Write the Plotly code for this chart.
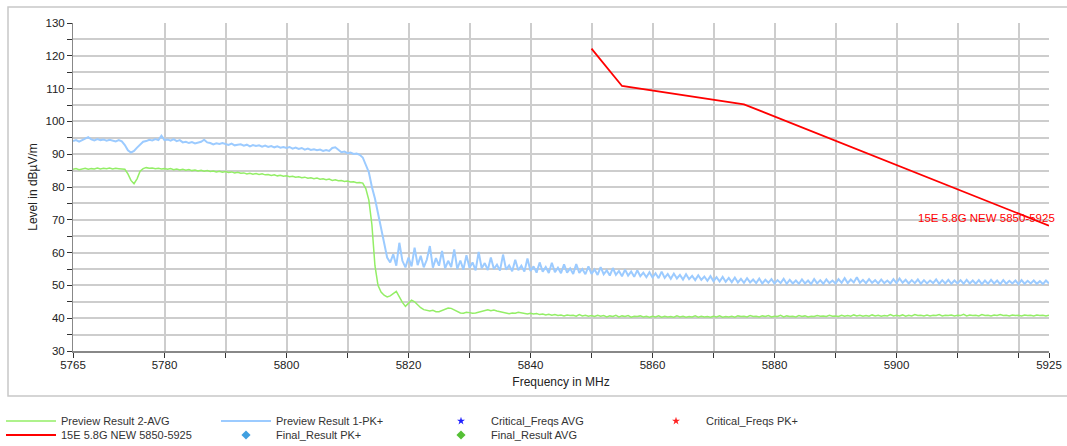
import plotly.graph_objects as go

# ---------------- data ----------------
F_START = 5765.0
F_STEP = 0.5

preview_pk = [
    94.0, 94.3, 93.8, 94.2, 94.6, 95.2, 94.5, 94.2, 94.6, 94.3,  # 5765
    94.5, 94.1, 94.4, 94.2, 93.9, 94.3, 93.9, 92.8, 91.2, 90.5,  # 5770
    91.0, 92.0, 93.0, 93.8, 94.0, 94.4, 94.2, 94.6, 94.3, 95.6,  # 5775
    94.3, 94.5, 94.1, 94.6, 94.0, 94.3, 93.6, 93.8, 93.4, 93.7,  # 5780
    93.3, 93.6, 93.8, 94.4, 93.6, 93.4, 93.0, 93.3, 93.1, 93.4,  # 5785
    93.0, 92.8, 93.2, 92.7, 92.9, 93.0, 92.6, 92.9, 92.4, 92.8,  # 5790
    92.5, 92.7, 92.3, 92.6, 92.2, 92.5, 92.1, 92.4, 92.0, 92.2,  # 5795
    91.9, 92.2, 91.7, 92.0, 91.6, 91.9, 91.4, 91.7, 91.3, 91.5,  # 5800
    91.2, 91.4, 91.0, 91.3, 91.0, 91.9, 92.1, 91.2, 90.6, 90.8,  # 5805
    90.3, 90.5, 90.1, 90.2, 89.8, 89.0, 87.0, 84.5, 80.0, 76.5,  # 5810
    72.0, 67.5, 62.5, 58.5, 57.0, 59.5, 56.0, 63.0, 57.5, 55.5,  # 5815
    58.5, 55.8, 61.5, 56.2, 59.0, 55.5, 57.8, 62.0, 55.4, 58.3,  # 5820
    56.0, 60.5, 55.2, 57.5, 55.6, 61.0, 55.0, 57.6, 54.8, 59.2,  # 5825
    55.4, 57.0, 54.6, 60.2, 55.2, 56.8, 54.7, 58.5, 55.0, 56.3,  # 5830
    54.5, 59.4, 54.8, 56.1, 54.3, 57.8, 54.6, 56.0, 54.2, 58.2,  # 5835
    54.4, 55.8, 53.9, 57.0, 54.2, 55.6, 53.8, 56.9, 54.0, 55.4,  # 5840
    53.7, 56.4, 53.9, 55.2, 53.5, 56.5, 53.8, 55.0, 53.4, 55.8,  # 5845
    53.5, 54.9, 53.2, 55.6, 53.4, 54.6, 53.0, 55.3, 53.2, 54.4,  # 5850
    52.8, 54.8, 53.0, 54.2, 52.6, 54.6, 52.8, 53.9, 52.5, 54.0,  # 5855
    52.4, 53.7, 52.2, 54.2, 52.3, 53.5, 52.0, 53.6, 52.1, 53.2,  # 5860
    51.8, 53.4, 51.9, 52.9, 51.6, 53.1, 51.7, 52.7, 51.4, 52.8,  # 5865
    51.3, 52.5, 51.2, 52.6, 51.1, 52.3, 51.0, 52.4, 50.9, 52.0,  # 5870
    50.8, 52.2, 50.9, 51.8, 50.7, 52.1, 50.6, 51.7, 50.8, 51.9,  # 5875
    50.6, 51.6, 50.7, 52.0, 50.5, 51.7, 50.6, 51.5, 50.5, 51.8,  # 5880
    50.6, 51.5, 50.4, 51.9, 50.6, 51.6, 50.5, 51.8, 50.7, 51.5,  # 5885
    50.6, 51.9, 50.8, 52.2, 50.7, 51.8, 50.9, 52.5, 50.8, 51.7,  # 5890
    50.7, 51.9, 50.8, 51.6, 50.6, 51.8, 50.7, 51.5, 50.6, 51.9,  # 5895
    50.7, 52.1, 50.8, 51.7, 50.6, 51.6, 50.7, 51.8, 50.5, 51.6,  # 5900
    50.6, 51.5, 50.7, 51.8, 50.5, 51.6, 50.6, 51.7, 50.5, 51.5,  # 5905
    50.6, 51.6, 50.5, 51.7, 50.6, 51.5, 50.5, 51.6, 50.4, 51.5,  # 5910
    50.5, 51.7, 50.6, 51.5, 50.4, 51.6, 50.5, 51.4, 50.6, 51.5,  # 5915
    50.4, 51.6, 50.5, 51.4, 50.6, 51.5, 50.5, 51.3, 50.4, 51.5, 50.6,  # 5920
]

preview_avg = [
    85.4, 85.6, 85.3, 85.5, 85.7, 85.4, 85.6, 85.5, 85.8, 85.5,  # 5765
    85.7, 85.6, 85.8, 85.5, 85.7, 85.6, 85.5, 85.4, 84.0, 82.0,  # 5770
    81.0, 82.5, 84.8, 85.6, 85.9, 85.7, 85.8, 85.6, 85.7, 85.5,  # 5775
    85.6, 85.4, 85.6, 85.3, 85.5, 85.2, 85.4, 85.1, 85.3, 85.0,  # 5780
    85.2, 84.9, 85.1, 84.8, 85.0, 84.7, 84.9, 84.6, 84.8, 84.5,  # 5785
    84.7, 84.4, 84.6, 84.3, 84.5, 84.2, 84.3, 84.0, 84.2, 83.9,  # 5790
    84.1, 83.8, 84.0, 83.7, 83.8, 83.5, 83.7, 83.4, 83.6, 83.3,  # 5795
    83.4, 83.1, 83.3, 83.0, 83.1, 82.8, 83.0, 82.7, 82.8, 82.5,  # 5800
    82.7, 82.4, 82.5, 82.2, 82.4, 82.0, 82.2, 81.9, 82.0, 81.7,  # 5805
    81.8, 81.5, 81.6, 81.3, 81.4, 81.2, 79.5, 76.0, 68.5, 56.0,  # 5810
    50.0, 48.0, 47.0, 46.5, 46.8, 47.6, 48.2, 46.5, 44.8, 43.6,  # 5815
    44.5, 45.5, 45.0, 44.0, 43.2, 42.6, 42.3, 42.2, 42.4, 42.0,  # 5820
    42.0, 42.3, 42.8, 43.1, 43.0, 42.5, 41.9, 41.6, 41.5, 41.8,  # 5825
    41.7, 41.5, 41.6, 41.8, 42.1, 42.4, 42.6, 42.3, 42.5, 42.2,  # 5830
    42.0, 41.7, 41.5, 41.4, 41.6, 41.5, 41.8, 41.6, 41.4, 41.3,  # 5835
    41.5, 41.3, 41.4, 41.1, 41.3, 41.0, 41.2, 40.9, 41.1, 40.8,  # 5840
    41.0, 40.7, 41.0, 40.8, 40.9, 40.6, 41.1, 40.7, 40.9, 40.6,  # 5845
    40.8, 40.5, 40.9, 40.6, 40.8, 40.4, 40.7, 40.5, 40.9, 40.4,  # 5850
    40.7, 40.5, 40.8, 40.3, 40.6, 40.5, 40.7, 40.4, 40.6, 40.3,  # 5855
    40.6, 40.4, 40.7, 40.3, 40.6, 40.4, 40.5, 40.3, 40.7, 40.4,  # 5860
    40.6, 40.3, 40.5, 40.4, 40.7, 40.3, 40.6, 40.4, 40.5, 40.3,  # 5865
    40.6, 40.4, 40.7, 40.3, 40.5, 40.4, 40.6, 40.3, 40.7, 40.5,  # 5870
    40.6, 40.4, 40.8, 40.5, 40.6, 40.4, 40.7, 40.5, 40.8, 40.4,  # 5875
    40.6, 40.5, 40.9, 40.4, 40.7, 40.5, 40.6, 40.4, 40.8, 40.5,  # 5880
    40.7, 40.4, 40.6, 40.5, 40.8, 40.6, 40.7, 40.5, 40.9, 40.6,  # 5885
    40.7, 40.5, 40.9, 40.6, 40.8, 40.6, 41.0, 40.7, 40.9, 40.6,  # 5890
    40.8, 40.6, 41.0, 40.7, 40.9, 40.6, 40.8, 40.7, 41.1, 40.7,  # 5895
    40.9, 40.7, 41.0, 40.6, 40.9, 40.7, 41.1, 40.8, 40.9, 40.7,  # 5900
    41.0, 40.7, 40.9, 40.8, 41.1, 40.7, 40.9, 40.8, 41.0, 40.7,  # 5905
    40.9, 40.8, 41.2, 40.7, 41.0, 40.8, 40.9, 40.7, 41.1, 40.8,  # 5910
    40.9, 40.7, 41.0, 40.8, 41.1, 40.8, 40.9, 40.7, 41.0, 40.8,  # 5915
    40.9, 40.7, 41.0, 40.8, 40.9, 40.7, 41.0, 40.8, 40.9, 40.7, 40.9,  # 5920
]

limit_freq = [5850, 5855, 5875, 5925]
limit_level = [122.2, 110.8, 105.2, 68.2]
limit_name = "15E 5.8G NEW 5850-5925"

x_tickvals = [5765, 5780, 5790, 5800, 5810, 5820, 5830, 5840, 5850, 5860,
              5870, 5880, 5890, 5900, 5910, 5920, 5925]
x_ticktext = ["5765", "5780", "", "5800", "", "5820", "", "5840", "", "5860",
              "", "5880", "", "5900", "", "", "5925"]

freq_pk = [F_START + F_STEP * i for i in range(len(preview_pk))]
freq_avg = [F_START + F_STEP * i for i in range(len(preview_avg))]

# ---------------- figure ----------------
FONT = "Arial, Liberation Sans, sans-serif"
GRID = "#cdcdcd"

fig = go.Figure()

fig.add_trace(go.Scatter(x=freq_avg, y=preview_avg, mode="lines",
                         name="Preview Result 2-AVG", legend="legend",
                         line=dict(color="#93ee66", width=1.5)))
fig.add_trace(go.Scatter(x=freq_pk, y=preview_pk, mode="lines",
                         name="Preview Result 1-PK+", legend="legend",
                         line=dict(color="#9ccbff", width=2)))
fig.add_trace(go.Scatter(x=[None], y=[None], mode="markers",
                         name="Critical_Freqs AVG", legend="legend",
                         marker=dict(symbol="star", size=6, color="#1f1fff")))
fig.add_trace(go.Scatter(x=[None], y=[None], mode="markers",
                         name="Critical_Freqs PK+", legend="legend",
                         marker=dict(symbol="star", size=6, color="#ff2020")))
fig.add_trace(go.Scatter(x=limit_freq, y=limit_level, mode="lines",
                         name=limit_name, legend="legend2",
                         line=dict(color="#ff0000", width=1.8)))
fig.add_trace(go.Scatter(x=[None], y=[None], mode="markers",
                         name="Final_Result PK+", legend="legend2",
                         marker=dict(symbol="diamond", size=7, color="#3f9fe0")))
fig.add_trace(go.Scatter(x=[None], y=[None], mode="markers",
                         name="Final_Result AVG", legend="legend2",
                         marker=dict(symbol="diamond", size=7, color="#55c035")))

fig.add_annotation(x=limit_freq[-1], y=70.5, text=limit_name, showarrow=False,
                   xanchor="right", yanchor="middle", xshift=8,
                   font=dict(family=FONT, size=11.5, color="#ff0000"))

# outer frame (paper coords relative to plot area 73..1049 x 23..351 px)
fig.add_shape(type="rect", xref="paper", yref="paper",
              x0=(8 - 73) / 976, x1=(1075 - 73) / 976,
              y0=(351 - 396) / 328, y1=(351 - 7) / 328,
              line=dict(color="#c8c8c8", width=1.5), layer="below")

leg_common = dict(orientation="h", xref="container", yref="container",
                  x=1 / 1067, xanchor="left", yanchor="middle",
                  entrywidth=150, entrywidthmode="pixels",
                  font=dict(family=FONT, size=11, color="#333"),
                  itemwidth=50, tracegroupgap=0,
                  bgcolor="rgba(0,0,0,0)", borderwidth=0)

fig.update_layout(
    width=1067, height=446,
    margin=dict(l=73, r=18, t=23, b=95, autoexpand=False),
    paper_bgcolor="white", plot_bgcolor="white",
    font=dict(family=FONT, size=11, color="#222"),
    showlegend=True,
    legend=dict(leg_common, y=1 - 421 / 446),
    legend2=dict(leg_common, y=1 - 435 / 446),
    xaxis=dict(range=[5765, 5925], tickmode="array",
               tickvals=x_tickvals, ticktext=x_ticktext,
               ticks="outside", ticklen=5, tickcolor="#333",
               ticklabelstandoff=-3,
               showgrid=True, gridcolor=GRID, gridwidth=1.5,
               showline=True, linecolor="#888", linewidth=2,
               zeroline=False, automargin=False,
               tickfont=dict(family=FONT, size=11.5, color="#222"),
               title=dict(text="Frequency in MHz", standoff=8,
                          font=dict(family=FONT, size=12, color="#222"))),
    yaxis=dict(range=[30, 130], dtick=10, tick0=30,
               ticks="outside", ticklen=5, tickcolor="#333",
               showgrid=True, gridcolor=GRID, gridwidth=1.5,
               showline=True, linecolor="#888", linewidth=1,
               zeroline=False, automargin=False,
               minor=dict(dtick=5, tick0=30, ticks="outside", ticklen=5,
                          tickcolor="#333", showgrid=True,
                          gridcolor=GRID, gridwidth=1.5),
               tickfont=dict(family=FONT, size=11.5, color="#222"),
               title=dict(text="Level in dBµV/m", standoff=5,
                          font=dict(family=FONT, size=12, color="#222"))),
)

fig.write_html("out.html")
